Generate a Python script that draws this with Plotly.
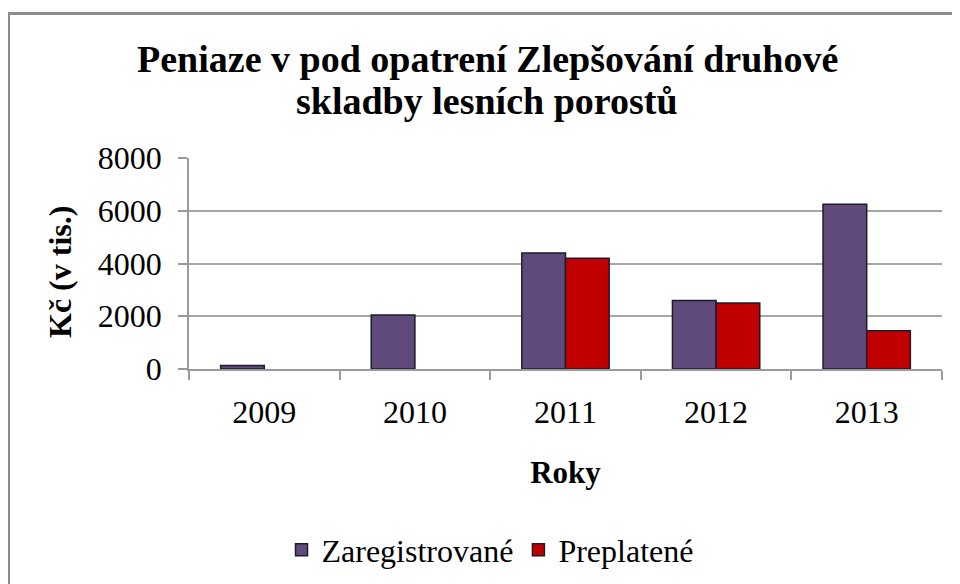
import plotly.graph_objects as go

years = ["2009", "2010", "2011", "2012", "2013"]
zaregistrovane = [130, 2050, 4400, 2600, 6250]
preplatene = [None, None, 4200, 2500, 1450]
y_ticks = [0, 2000, 4000, 6000, 8000]
title_lines = ["Peniaze v pod opatrení Zlepšování druhové", "skladby lesních porostů"]
y_title = "Kč (v tis.)"

SERIF = "Liberation Serif"

fig = go.Figure()
fig.add_trace(go.Bar(x=years, y=zaregistrovane, name="Zaregistrované",
                     marker=dict(color="#604A7B", line=dict(color="#1c1c2a", width=1.5))))
fig.add_trace(go.Bar(x=years, y=preplatene, name="Preplatené",
                     marker=dict(color="#C00000", line=dict(color="#1c1c2a", width=1.5))))

W, H = 960, 584
L, R, T, B = 181, 26, 150, 223
pw, ph = W - L - R, H - T - B

def px_x(p):
    return (p - L) / pw

def px_y(p):
    return (H - B - p) / ph

annotations = []
for text, yc in zip(title_lines, [51, 93]):
    annotations.append(dict(text="<b>" + text + "</b>", xref="paper", yref="paper",
                            x=px_x(479), y=px_y(yc), xanchor="center", yanchor="middle",
                            showarrow=False, font=dict(family=SERIF, size=38, color="black")))
annotations.append(dict(text="<b>" + y_title + "</b>", xref="paper", yref="paper",
                        x=px_x(52), y=px_y(264), xanchor="center", yanchor="middle",
                        textangle=-90, showarrow=False,
                        font=dict(family=SERIF, size=32, color="black")))

fig.update_layout(
    width=W, height=H,
    margin=dict(l=L, r=R, t=T, b=B, autoexpand=False),
    paper_bgcolor="white", plot_bgcolor="white",
    font=dict(family=SERIF, color="black"),
    barmode="group", bargap=0.42, bargroupgap=0,
    annotations=annotations,
    xaxis=dict(
        type="category", showline=True, linecolor="#9a9a9a", linewidth=1.5, automargin=False,
        ticks="outside", tickson="boundaries", ticklen=9, tickcolor="#9a9a9a", tickwidth=1.5,
        tickfont=dict(family=SERIF, size=32), showgrid=False, ticklabelstandoff=14,
        title=dict(text="<b>Roky</b>", font=dict(family=SERIF, size=31), standoff=32),
    ),
    yaxis=dict(
        range=[0, 8000], tickvals=y_ticks, ticktext=[str(v) for v in y_ticks], automargin=False,
        showline=True, linecolor="#9a9a9a", linewidth=1.5,
        ticks="outside", ticklen=9, tickcolor="#9a9a9a", tickwidth=1.5, ticklabelstandoff=10,
        showgrid=True, gridcolor="#a6a6a6", gridwidth=1.5, zeroline=False,
        tickfont=dict(family=SERIF, size=32),
    ),
    legend=dict(orientation="h", xref="container", x=482 / W, xanchor="center",
                yref="container", y=(H - 542) / H, yanchor="middle",
                font=dict(family=SERIF, size=32), itemwidth=30, traceorder="normal"),
    shapes=[dict(type="rect", xref="paper", yref="paper",
                 x0=px_x(0.5), x1=px_x(990), y0=px_y(620), y1=px_y(5.5),
                 line=dict(color="#8c8c8c", width=3), fillcolor="rgba(0,0,0,0)", layer="below")],
)

fig.write_html("out.html")
